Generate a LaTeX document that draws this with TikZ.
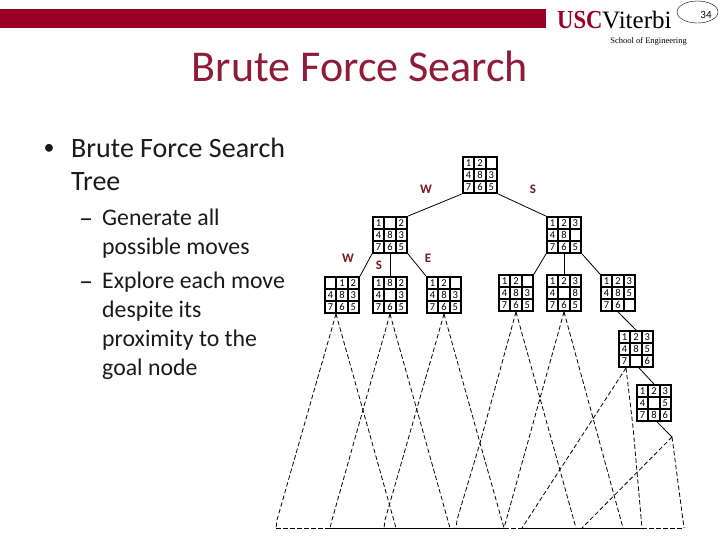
\documentclass[tikz,border=0pt]{standalone}
\usepackage{fontspec}
\setmainfont{Carlito}
\newfontfamily\logofont{Liberation Serif}
\usetikzlibrary{
  shapes.geometric,
  positioning
}
\definecolor{uscRed}{HTML}{990025}
\definecolor{uscTitle}{HTML}{8E1B3A}
\definecolor{moveRed}{HTML}{7A1A1E}
\definecolor{bodyInk}{HTML}{1A1A1A}
\tikzset{
  board/.style={
    draw, line width=1.8pt, fill=white, minimum width=34.2pt, minimum height=36pt, inner sep=0pt,
    path picture={
      \foreach \gx in {-5.7,5.7}{\draw[line width=1.8pt] ([xshift=\gx pt]path picture bounding box.north) -- ([xshift=\gx pt]path picture bounding box.south);}
      \foreach \gy in {-6,6}{\draw[line width=1.8pt] ([yshift=\gy pt]path picture bounding box.west) -- ([yshift=\gy pt]path picture bounding box.east);}
    }
  },
  cell/.style={inner sep=0pt, font=\fontsize{10.5}{11}\selectfont},
  move/.style={font=\fontsize{13}{13}\selectfont\bfseries, text=moveRed, inner sep=0pt},
  treeline/.style={line width=.8pt, black},
  spread/.style={line width=.8pt, dash pattern=on 4.5pt off 2.5pt, black},
  floor/.style={line width=1pt, black},
  bulletone/.style={anchor=north west, align=left, inner sep=0pt, text=bodyInk,
    font=\fontsize{28}{33}\selectfont},
  bullettwo/.style={anchor=north west, align=left, inner sep=0pt, text=bodyInk,
    font=\fontsize{23.8}{29}\selectfont}
}
% digits of a board, row by row
\newcommand{\boardcells}[2]{%
  \foreach \d [count=\k from 0] in {#2}{
    \pgfmathsetmacro\cx{(mod(\k,3)-1)*11.4}
    \pgfmathsetmacro\cy{(1-floor(\k/3))*12}
    \node[cell] (#1-\k) at ([xshift=\cx pt, yshift=\cy pt]#1.center) {\d};
  }%
}
\begin{document}
\begin{tikzpicture}[x=1pt,y=-1pt]
  \useasboundingbox (0,0) rectangle (720,540);
  % header
  \fill[uscRed] (0,9) rectangle (546,28);
  \node[inner sep=0pt, anchor=base west, xscale=.87, font=\logofont\fontsize{26}{26}\selectfont\bfseries, text=uscRed] (usc) at (557,29) {USC};
  \node[inner sep=0pt, anchor=base west, font=\logofont\fontsize{25}{25}\selectfont] (vit) at (602,29) {Viterbi};
  \node[inner sep=0pt, anchor=base east, font=\logofont\fontsize{8.5}{9}\selectfont] (soe) at (687,44) {School of Engineering};
  \node[draw, ellipse, minimum width=41pt, minimum height=22pt, inner sep=0pt] (oval) at (697.5,12) {};
  \node[inner sep=0pt, font=\fontsize{11}{11}\selectfont] (pagenum) at (706,15) {34};
  \node[inner sep=0pt, font=\fontsize{44}{48}\selectfont, text=uscTitle] (title) at (360,66) {Brute Force Search};
  % text
  \node[inner sep=0pt, font=\fontsize{22}{26}\selectfont, text=bodyInk] (dot) at (49,149) {•};
  \node[bulletone] (one) at (71,137.5) {Brute Force Search\\Tree};
  \node[inner sep=0pt, font=\fontsize{28}{30}\selectfont, text=bodyInk] (dashone) at (86,223) {–};
  \node[bullettwo] (two) at (102,209) {Generate all\\possible moves};
  \node[inner sep=0pt, font=\fontsize{28}{30}\selectfont, text=bodyInk] (dashtwo) at (86,286) {–};
  \node[bullettwo] (three) at (102,272) {Explore each move\\despite its\\proximity to the\\goal node};
  % boards
  \node[board] (root) at (480,175) {};
  \node[board, below left=22.2pt and 54pt of root] (bw) {};
  \node[board, below right=22.2pt and 48pt of root] (bs) {};
  \node[board, below left=22.2pt and 12pt of bw] (bww) {};
  \node[board, below=22.2pt of bw] (bws) {};
  \node[board, below right=22.2pt and 18pt of bw] (bwe) {};
  \node[board, below left=20.2pt and 12pt of bs] (bsn) {};
  \node[board, below=20.2pt of bs] (bsw) {};
  \node[board, below right=20.2pt and 18pt of bs] (bss) {};
  \node[board, below right=18.2pt and -18pt of bss] (bsa) {};
  \node[board, below right=16.2pt and -18pt of bsa] (bsb) {};
  \boardcells{root}{1,2,,4,8,3,7,6,5}
  \boardcells{bw}{1,,2,4,8,3,7,6,5}
  \boardcells{bs}{1,2,3,4,8,,7,6,5}
  \boardcells{bww}{,1,2,4,8,3,7,6,5}
  \boardcells{bws}{1,8,2,4,,3,7,6,5}
  \boardcells{bwe}{1,2,,4,8,3,7,6,5}
  \boardcells{bsn}{1,2,,4,8,3,7,6,5}
  \boardcells{bsw}{1,2,3,4,,8,7,6,5}
  \boardcells{bss}{1,2,3,4,8,5,7,6,}
  \boardcells{bsa}{1,2,3,4,8,5,7,,6}
  \boardcells{bsb}{1,2,3,4,,5,7,8,6}
  % move labels
  \node[move] (lw) at (426,189) {W};
  \node[move] (ls) at (533,189) {S};
  \node[move] (lww) at (348,258) {W};
  \node[move] (lws) at (379,265) {S};
  \node[move] (lwe) at (428,258) {E};
  % tree
  \coordinate (tip) at (672,437);
  \draw[treeline] (root.south west) -- (bw.north east);
  \draw[treeline] (root.south east) -- (bs.north west);
  \foreach \a/\b in {bw/bww,bs/bsn}{\draw[treeline] (\a.south west) -- (\b.north east);}
  \foreach \a/\b in {bw/bws,bs/bsw}{\draw[treeline] (\a.south) -- (\b.north);}
  \foreach \a/\b in {bw/bwe,bs/bss}{\draw[treeline] (\a.south east) -- (\b.north west);}
  \draw[treeline] (bss.south) -- (bsa.north);
  \draw[treeline] ([xshift=3pt]bsa.south) -- (bsb.north);
  \draw[treeline] ([xshift=3pt]bsb.south) -- (tip);
  % dashed triangles
  \coordinate (f1) at (276,528);
  \coordinate (f2) at (330,528);
  \coordinate (f3) at (384,528);
  \coordinate (f4) at (396,528);
  \coordinate (f5) at (450,528);
  \coordinate (f6) at (456,528);
  \coordinate (f7) at (504,528);
  \coordinate (f8) at (522,528);
  \coordinate (f9) at (576,528);
  \coordinate (f10) at (582,528);
  \coordinate (f11) at (623,528);
  \coordinate (f12) at (642,528);
  \coordinate (f13) at (684,528);
  \draw[spread] ([xshift=-6pt]bww.south) -- (277,520) -- (f1);
  \draw[spread] ([xshift=-6pt]bww.south) -- (f4);
  \draw[spread] (bws.south) -- (332,520) -- (f2);
  \draw[spread] (bws.south) -- (f5);
  \draw[spread] (bwe.south) -- (385,520) -- (f3);
  \draw[spread] (bwe.south) -- (480,443) -- (f7);
  \draw[spread] (bsn.south) -- (480,443) -- (457,520) -- (f6);
  \draw[spread] (bsn.south) -- (f9);
  \draw[spread] (bsw.south) -- (f7);
  \draw[spread] (bsw.south) -- (f11);
  \draw[spread] ([xshift=-10pt]bsa.south) -- (f8);
  \draw[spread] ([xshift=-10pt]bsa.south) -- (633,427) -- (f12);
  \draw[spread] (tip) -- (f10);
  \draw[spread] (tip) -- (f13);
  % floor
  \draw[spread] (f1) -- (f2);
  \draw[floor] (f2) -- (f7);
  \draw[spread] (f7) -- (f8);
  \draw[floor] (f8) -- (f12);
  \draw[spread] (f12) -- (f13);
\end{tikzpicture}
\end{document}
